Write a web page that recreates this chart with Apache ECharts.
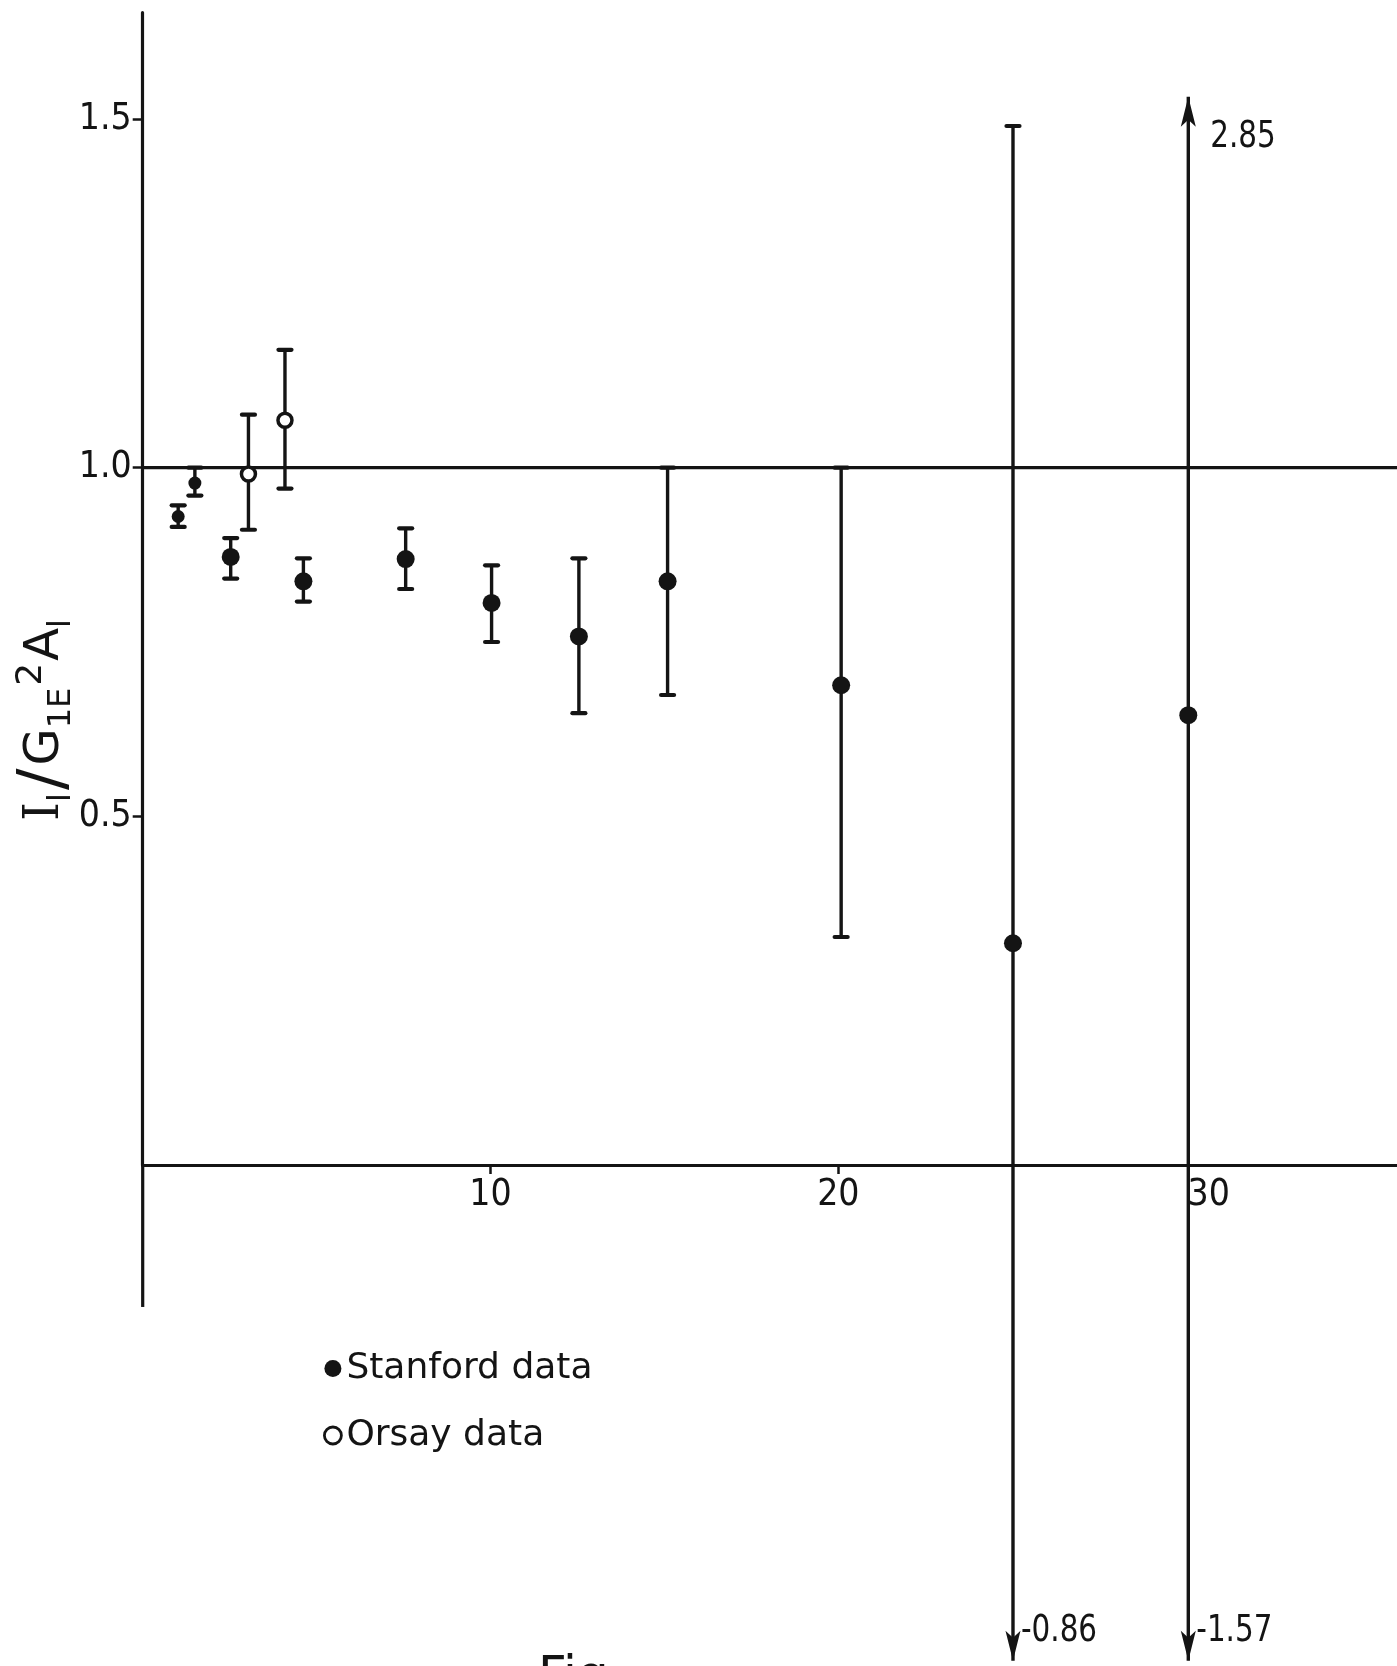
<!DOCTYPE html>
<html><head><meta charset="utf-8">
<script src="https://cdn.jsdelivr.net/npm/echarts@6/dist/echarts.min.js"></script>
<style>html,body{margin:0;padding:0;background:#fff}#c{width:1397px;height:1666px}</style>
</head><body><div id="c"></div>
<script>
// ---- data ----
const stanfordX  = [1.02, 1.50, 2.53, 4.62, 7.56, 10.03, 12.54, 15.09, 20.08, 25.02, 30.06];
const stanfordY  = [0.930, 0.978, 0.872, 0.837, 0.869, 0.806, 0.758, 0.837, 0.688, 0.318, 0.645];
const stanfordLo = [0.915, 0.960, 0.841, 0.808, 0.826, 0.750, 0.648, 0.674, 0.327, -0.86, -1.57];
const stanfordHi = [0.946, 1.00, 0.899, 0.870, 0.913, 0.860, 0.870, 1.00, 1.00, 1.49, 2.85];
const orsayX  = [3.04, 4.09];
const orsayY  = [0.991, 1.068];
const orsayLo = [0.911, 0.970];
const orsayHi = [1.076, 1.169];
const xTickValues = [10, 20, 30];
const yTickValues = [0.5, 1.0, 1.5];
const referenceY = 1.0;

// ---- layout / style constants ----
const INK = '#141414';
const NUM_FONT = '"Liberation Sans Narrow","DejaVu Sans Condensed",sans-serif';
const Y_AXIS_BOTTOM = -0.2036, Y_MAX = 1.6525;
const X_MIN = 0, X_MAX = 36.06;
const DRAW_MIN = -0.711, DRAW_MAX = 1.532; // where out-of-range error bars are cut with arrows

const errData = [];
stanfordX.forEach((x, i) => errData.push([x, stanfordLo[i], stanfordHi[i]]));
orsayX.forEach((x, i) => errData.push([x, orsayLo[i], orsayHi[i]]));

function renderErr(params, api) {
  const x = api.value(0), lo = api.value(1), hi = api.value(2);
  const top = api.coord([x, Math.min(hi, DRAW_MAX)]);
  const bot = api.coord([x, Math.max(lo, DRAW_MIN)]);
  const ch = [{type: 'line', shape: {x1: top[0], y1: top[1], x2: bot[0], y2: bot[1]},
               style: {stroke: INK, lineWidth: 3.4}}];
  const cap = (p) => ({type: 'line', shape: {x1: p[0] - 6.5, y1: p[1], x2: p[0] + 6.5, y2: p[1]},
                       style: {stroke: INK, lineWidth: 4.2, lineCap: 'round'}});
  const txt = (s, px, py) => ({type: 'text', x: px, y: py, scaleX: 0.86,
      style: {text: s, fill: INK, font: '38px ' + NUM_FONT, align: 'left', verticalAlign: 'middle'}});
  if (hi > DRAW_MAX) {
    const t = top;
    ch.push({type: 'polygon', shape: {points: [[t[0], t[1]], [t[0] - 7.5, t[1] + 30], [t[0], t[1] + 23], [t[0] + 7.5, t[1] + 30]]},
             style: {fill: INK}});
    ch.push(txt(String(hi), t[0] + 22, t[1] + 40));
  } else {
    ch.push(cap(top));
  }
  if (lo < DRAW_MIN) {
    const b = bot;
    ch.push({type: 'polygon', shape: {points: [[b[0], b[1]], [b[0] - 7.5, b[1] - 30], [b[0], b[1] - 23], [b[0] + 7.5, b[1] - 30]]},
             style: {fill: INK}});
    ch.push(txt(String(lo), b[0] + 8, b[1] - 30));
  } else {
    ch.push(cap(bot));
  }
  return {type: 'group', children: ch};
}

const chart = echarts.init(document.getElementById('c'), null, {renderer: 'canvas'});
chart.setOption({
  backgroundColor: '#fff',
  animation: false,
  grid: {left: 142.7, right: 0, top: 12.7, bottom: 501, containLabel: false, outerBoundsMode: 'none'},
  xAxis: {
    type: 'value', min: X_MIN, max: X_MAX,
    axisLine: {onZero: false, lineStyle: {color: INK, width: 3.2}},
    axisTick: {show: true, customValues: xTickValues.slice(0, 2), length: 9, lineStyle: {color: INK, width: 2.5}},
    axisLabel: {
      customValues: xTickValues, margin: 12, color: INK,
      fontFamily: NUM_FONT, fontSize: 37,
      formatter: (v) => v === 30 ? '{r|' + v + '}' : String(v),
      rich: {r: {padding: [0, 0, 0, 45], fontFamily: NUM_FONT, fontSize: 37, color: INK}}
    },
    splitLine: {show: false}
  },
  yAxis: {
    type: 'value', min: 0, max: Y_MAX,
    axisLine: {show: true, onZero: false, lineStyle: {color: INK, width: 3.2}},
    axisTick: {show: true, customValues: yTickValues, length: 10, lineStyle: {color: INK, width: 2.5}},
    axisLabel: {customValues: yTickValues, margin: 11, color: INK, fontFamily: NUM_FONT, fontSize: 37,
                formatter: (v) => v.toFixed(1)},
    splitLine: {show: false}
  },
  legend: {
    orient: 'vertical', left: 318, top: 1343, itemGap: 26, itemWidth: 17, itemHeight: 17,
    icon: 'circle',
    textStyle: {fontFamily: '"DejaVu Sans",sans-serif', fontSize: 36, color: INK, lineHeight: 41, padding: [0, 0, 0, 0]},
    data: [
      {name: 'Stanford data', itemStyle: {color: INK}},
      {name: 'Orsay data', itemStyle: {color: '#fff', borderColor: INK, borderWidth: 2.8}}
    ]
  },
  graphic: [
    {type: 'text', x: 46, y: 720, rotation: Math.PI / 2,
     style: {
       text: '{i|I}{s|l}{sl|/}{b|G}{s|1E}{p|2}{b|A}{s|l}',
       align: 'center', verticalAlign: 'middle', fill: INK,
       rich: {
         i: {fontFamily: '"DejaVu Serif",serif', fontSize: 48, lineHeight: 64, fill: INK},
         b: {fontFamily: '"DejaVu Sans",sans-serif', fontSize: 48, lineHeight: 64, fill: INK},
         sl: {fontFamily: '"DejaVu Sans",sans-serif', fontSize: 64, lineHeight: 64, fill: INK, padding: [0, 3, 0, 3]},
         s: {fontFamily: '"DejaVu Sans",sans-serif', fontSize: 32, lineHeight: 34, verticalAlign: 'bottom', fill: INK},
         p: {fontFamily: '"DejaVu Sans",sans-serif', fontSize: 36, lineHeight: 38, verticalAlign: 'top', fill: INK, padding: [0, 2, 0, 2]}
       }
     }},
    {type: 'text', x: 538, y: 1653,
     style: {text: 'Fig.', fill: INK, font: '50px "DejaVu Sans",sans-serif', align: 'left', verticalAlign: 'top'}}
  ],
  series: [
    {
      name: 'ref', type: 'line', silent: true, symbol: 'none', z: 1,
      data: [[X_MIN, referenceY], [X_MAX, referenceY]],
      lineStyle: {color: INK, width: 3.2}
    },
    {
      name: 'yAxisExt', type: 'line', silent: true, symbol: 'none', z: 1, clip: false,
      data: [[X_MIN, Y_AXIS_BOTTOM], [X_MIN, 0]],
      lineStyle: {color: INK, width: 3.2}
    },
    {
      name: 'errors', type: 'custom', clip: false, z: 2, silent: true,
      renderItem: renderErr,
      encode: {x: 0, y: [1, 2]},
      data: errData
    },
    {
      name: 'Stanford data', type: 'scatter', clip: false, z: 3,
      symbol: 'circle',
      symbolSize: (v, p) => (p.dataIndex < 2 ? 13 : 18),
      itemStyle: {color: INK, opacity: 1},
      data: stanfordX.map((x, i) => [x, stanfordY[i]])
    },
    {
      name: 'Orsay data', type: 'scatter', clip: false, z: 3,
      symbol: 'circle', symbolSize: 14,
      itemStyle: {color: '#fff', borderColor: INK, borderWidth: 3.5, opacity: 1},
      data: orsayX.map((x, i) => [x, orsayY[i]])
    }
  ]
});
</script></body></html>
